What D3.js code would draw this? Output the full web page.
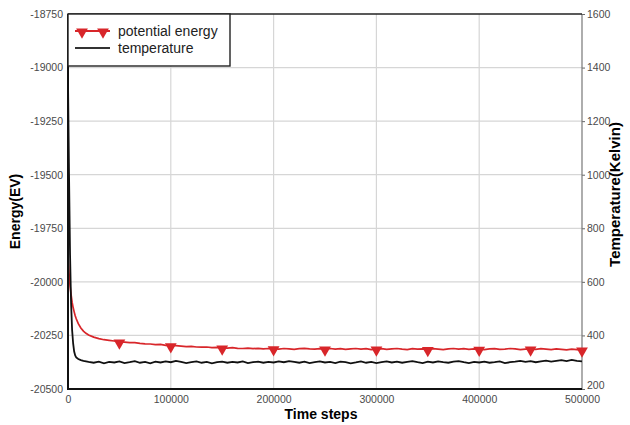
<!DOCTYPE html>
<html>
<head>
<meta charset="utf-8">
<script src="https://cdn.jsdelivr.net/npm/d3@7"></script>
<style>
  body { margin: 0; background: #fff; }
  svg text { font-family: "Liberation Sans", Arial, sans-serif; }
</style>
</head>
<body>
<div id="chart"></div>
<script>
// time steps of the sampled points
const steps = [0, 1000, 2000, 3000, 4000, 5000, 6000, 7000, 8000, 10000, 12500, 15000, 17500, 20000,
  25000, 30000, 35000, 40000, 45000, 50000, 55000, 60000, 65000, 70000, 75000, 80000, 85000, 90000, 95000,
  100000, 105000, 110000, 115000, 120000, 125000, 130000, 135000, 140000, 145000, 150000,
  155000, 160000, 165000, 170000, 175000, 180000, 185000, 190000, 195000, 200000,
  205000, 210000, 215000, 220000, 225000, 230000, 235000, 240000, 245000, 250000,
  255000, 260000, 265000, 270000, 275000, 280000, 285000, 290000, 295000, 300000,
  305000, 310000, 315000, 320000, 325000, 330000, 335000, 340000, 345000, 350000,
  355000, 360000, 365000, 370000, 375000, 380000, 385000, 390000, 395000, 400000,
  405000, 410000, 415000, 420000, 425000, 430000, 435000, 440000, 445000, 450000,
  455000, 460000, 465000, 470000, 475000, 480000, 485000, 490000, 495000, 500000];

// potential energy (EV)
const energy = [-19880, -19960, -20020, -20060, -20095, -20120, -20140, -20158, -20172, -20195, -20215, -20230, -20240, -20248,
  -20258, -20265, -20270, -20273, -20276, -20280, -20281, -20284, -20284, -20287, -20289, -20290, -20293, -20292, -20296,
  -20298, -20298, -20300, -20302, -20301, -20304, -20305, -20304, -20307, -20306, -20308,
  -20309, -20307, -20310, -20311, -20309, -20312, -20310, -20313, -20311, -20312,
  -20314, -20311, -20313, -20315, -20312, -20310, -20313, -20314, -20312, -20313,
  -20311, -20314, -20312, -20315, -20313, -20311, -20314, -20312, -20316, -20313,
  -20312, -20315, -20313, -20311, -20314, -20316, -20312, -20314, -20313, -20315,
  -20312, -20314, -20316, -20313, -20311, -20314, -20312, -20315, -20313, -20314,
  -20316, -20313, -20312, -20315, -20314, -20311, -20313, -20316, -20314, -20313,
  -20315, -20312, -20314, -20316, -20313, -20315, -20317, -20314, -20316, -20318];

// temperature (Kelvin)
const temperature = [1350, 1000, 700, 520, 420, 370, 340, 325, 318, 312, 308, 305, 303, 301,
  298, 302, 296, 301, 299, 303, 297, 300, 304, 298, 301, 296, 302, 299, 303,
  300, 305, 301, 297, 300, 303, 298, 301, 296, 300, 302,
  298, 301, 299, 303, 297, 300, 302, 298, 301, 299,
  303, 300, 304, 301, 298, 302, 297, 300, 303, 299,
  301, 297, 302, 300, 296, 299, 303, 298, 301, 297,
  300, 303, 299, 302, 298, 301, 304, 300, 297, 302,
  299, 303, 300, 298, 302, 304, 300, 297, 301, 299,
  302, 298, 300, 303, 297, 300, 302, 305, 301, 304,
  300, 303, 306, 302, 305, 308, 304, 309, 305, 303];

const markerSteps = [50000, 100000, 150000, 200000, 250000, 300000, 350000, 400000, 450000, 500000];
const xTicks = [0, 100000, 200000, 300000, 400000, 500000];
const energyTicks = [-18750, -19000, -19250, -19500, -19750, -20000, -20250, -20500];
const tempTicks = [200, 400, 600, 800, 1000, 1200, 1400, 1600];

const width = 630;
const height = 425;
const margin = { top: 14, right: 48, bottom: 36, left: 68 };

const red = '#d8262a';

const svg = d3.select('#chart').append('svg')
  .attr('width', width)
  .attr('height', height);

const x = d3.scaleLinear()
  .domain([0, 500000])
  .range([margin.left, width - margin.right]);

const yE = d3.scaleLinear()
  .domain([-20500, -18750])
  .range([height - margin.bottom, margin.top]);

const yT = d3.scaleLinear()
  .domain([200, 1600])
  .range([height - margin.bottom, margin.top]);

// grid
svg.append('g')
  .selectAll('line')
  .data(xTicks.slice(1, -1))
  .enter()
  .append('line')
  .attr('x1', d => x(d))
  .attr('x2', d => x(d))
  .attr('y1', margin.top)
  .attr('y2', height - margin.bottom)
  .attr('stroke', '#d6d6d6')
  .attr('stroke-width', 1.2);

svg.append('g')
  .selectAll('line')
  .data(energyTicks.slice(1, -1))
  .enter()
  .append('line')
  .attr('x1', margin.left)
  .attr('x2', width - margin.right)
  .attr('y1', d => yE(d))
  .attr('y2', d => yE(d))
  .attr('stroke', '#d6d6d6')
  .attr('stroke-width', 1.2);

// axes
const xAxis = d3.axisBottom(x).tickValues(xTicks).tickSize(0).tickPadding(7).tickFormat(d3.format('d'));
const yAxisL = d3.axisLeft(yE).tickValues(energyTicks).tickSize(0).tickPadding(5).tickFormat(d => String(d));
const yAxisR = d3.axisRight(yT).tickValues(tempTicks).tickSize(3).tickPadding(2).tickFormat(d3.format('d'));

const styleAxis = (g) => {
  g.select('.domain').remove();
  g.selectAll('text')
    .attr('fill', '#4a4a4a')
    .style('font-size', '10.5px');
  g.selectAll('line').attr('stroke', '#666');
};

svg.append('g')
  .attr('transform', `translate(0,${height - margin.bottom})`)
  .call(xAxis)
  .call(styleAxis);

svg.append('g')
  .attr('transform', `translate(${margin.left},0)`)
  .call(yAxisL)
  .call(styleAxis);

const rightAxis = svg.append('g')
  .attr('transform', `translate(${width - margin.right},0)`)
  .call(yAxisR)
  .call(styleAxis);

// lift the lowest right label so it clears the 500000 tick label
rightAxis.selectAll('.tick text')
  .filter(d => d === 200)
  .attr('dy', '-0.05em');

// frame
svg.append('line')
  .attr('x1', width - margin.right).attr('x2', width - margin.right)
  .attr('y1', margin.top).attr('y2', height - margin.bottom)
  .attr('stroke', '#777').attr('stroke-width', 1.2);
svg.append('line')
  .attr('x1', margin.left).attr('x2', width - margin.right)
  .attr('y1', margin.top).attr('y2', margin.top)
  .attr('stroke', '#222').attr('stroke-width', 1.6);

// series
const energyLine = d3.line()
  .x((d, i) => x(steps[i]))
  .y(d => yE(d));

const tempLine = d3.line()
  .x((d, i) => x(steps[i]))
  .y(d => yT(d));

svg.append('path')
  .datum(energy)
  .attr('fill', 'none')
  .attr('stroke', red)
  .attr('stroke-width', 1.7)
  .attr('d', energyLine);

svg.append('path')
  .datum(temperature)
  .attr('fill', 'none')
  .attr('stroke', '#111')
  .attr('stroke-width', 1.8)
  .attr('d', tempLine);

const tri = d3.symbol().type(d3.symbolTriangle).size(60);

svg.selectAll('.pe-marker')
  .data(markerSteps)
  .enter()
  .append('path')
  .attr('class', 'pe-marker')
  .attr('d', tri)
  .attr('fill', red)
  .attr('transform', d => `translate(${x(d)},${yE(energy[steps.indexOf(d)]) + 1}) rotate(180)`);

// left + bottom axis lines on top
svg.append('line')
  .attr('x1', margin.left).attr('x2', margin.left)
  .attr('y1', margin.top).attr('y2', height - margin.bottom + 1)
  .attr('stroke', '#111').attr('stroke-width', 2);
svg.append('line')
  .attr('x1', margin.left).attr('x2', width - margin.right)
  .attr('y1', height - margin.bottom).attr('y2', height - margin.bottom)
  .attr('stroke', '#111').attr('stroke-width', 2);

// legend
const legend = svg.append('g');
legend.append('rect')
  .attr('x', margin.left)
  .attr('y', margin.top)
  .attr('width', 162)
  .attr('height', 52)
  .attr('fill', '#fff')
  .attr('stroke', '#222')
  .attr('stroke-width', 1.4);

legend.append('line')
  .attr('x1', 75).attr('x2', 110).attr('y1', 31).attr('y2', 31)
  .attr('stroke', red).attr('stroke-width', 2);
[82, 103].forEach((px) => {
  legend.append('path')
    .attr('d', tri)
    .attr('fill', red)
    .attr('transform', `translate(${px},32) rotate(180)`);
});
legend.append('text')
  .attr('x', 118).attr('y', 36)
  .style('font-size', '14px')
  .attr('fill', '#222')
  .text('potential energy');

legend.append('line')
  .attr('x1', 75).attr('x2', 110).attr('y1', 48).attr('y2', 48)
  .attr('stroke', '#333').attr('stroke-width', 2);
legend.append('text')
  .attr('x', 118).attr('y', 53)
  .style('font-size', '14px')
  .attr('fill', '#222')
  .text('temperature');

// titles
svg.append('text')
  .attr('x', (margin.left + width - margin.right) / 2 - 4)
  .attr('y', 419)
  .attr('text-anchor', 'middle')
  .style('font-size', '14px')
  .style('font-weight', 'bold')
  .text('Time steps');

svg.append('text')
  .attr('transform', `translate(20,${(margin.top + height - margin.bottom) / 2 + 10}) rotate(-90)`)
  .attr('text-anchor', 'middle')
  .style('font-size', '14px')
  .style('font-weight', 'bold')
  .text('Energy(EV)');

svg.append('text')
  .attr('transform', `translate(620,${(margin.top + height - margin.bottom) / 2 - 7}) rotate(-90)`)
  .attr('text-anchor', 'middle')
  .style('font-size', '15px')
  .style('font-weight', 'bold')
  .text('Temperature(Kelvin)');
</script>
</body>
</html>
